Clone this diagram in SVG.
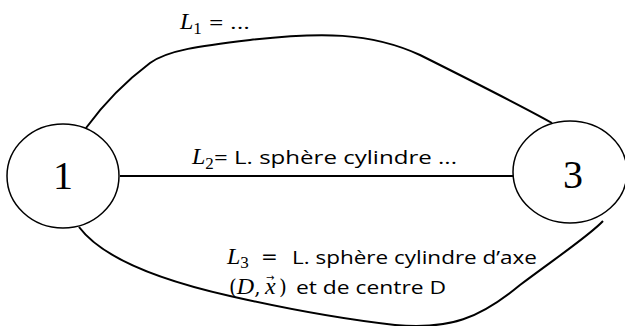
<svg xmlns="http://www.w3.org/2000/svg" width="625" height="326" viewBox="0 0 625 326">
<style>
.node{fill:#fff;stroke:#000;stroke-width:1.5}
.num{font-family:"Liberation Serif",serif;font-size:40px;fill:#000}
.edge{fill:none;stroke:#000;stroke-width:2}
.m{font-family:"Liberation Serif","DejaVu Serif",serif;font-style:italic;font-size:24px;fill:#000}
.sub{font-family:"Liberation Serif",serif;font-size:17px;fill:#000}
.op{font-family:"DejaVu Serif",serif;font-size:20px;fill:#000}
.t{font-family:"Open Sans","Liberation Sans",sans-serif;font-size:19px;fill:#000}
.arr{font-family:"DejaVu Sans",sans-serif;font-size:10px;fill:#000}
</style>
<rect width="625" height="326" fill="#fff"/>
<g id="connectors">
<path class="edge" d="M86,128 C105,102 130,78 150,63 C168,50 200,46 250,40 C320,32 370,32 420,55 C470,80 520,105 552,123"/>
<line class="edge" x1="120" y1="176" x2="513" y2="176"/>
<path class="edge" d="M79,227 C100,255 150,278 230,296 C300,312 350,320 395,325 C450,330 480,318 520,285 C560,255 590,235 603,221"/>
</g>
<g id="node1">
<ellipse class="node" cx="63" cy="176" rx="56" ry="52"/>
<text class="num" x="63" y="189" text-anchor="middle">1</text>
</g>
<g id="node3">
<ellipse class="node" cx="570" cy="172" rx="57" ry="51"/>
<text class="num" x="573" y="188" text-anchor="middle">3</text>
</g>
<g id="labels">
<text x="180" y="29"><tspan class="m">L</tspan><tspan class="sub" dy="5">1</tspan><tspan class="t" dy="-5" x="209" textLength="41" lengthAdjust="spacingAndGlyphs">= ...</tspan></text>
<text x="192" y="164"><tspan class="m">L</tspan><tspan class="sub" dy="5">2</tspan><tspan class="t" dy="-5" x="214" textLength="243" lengthAdjust="spacingAndGlyphs">= L. sphère cylindre ...</tspan></text>
<text x="227" y="264"><tspan class="m">L</tspan><tspan class="sub" dy="4">3</tspan><tspan class="op" dy="-4" x="261">=</tspan><tspan class="t" x="292" textLength="245" lengthAdjust="spacingAndGlyphs">L. sphère cylindre d’axe</tspan></text>
<text x="229" y="294"><tspan class="op">(</tspan><tspan class="m">D</tspan><tspan class="op">,</tspan><tspan class="m" x="265">x</tspan><tspan class="op" x="279">)</tspan><tspan class="t" x="296" textLength="150" lengthAdjust="spacingAndGlyphs">et de centre D</tspan><tspan class="arr" x="266" y="281">→</tspan></text>
</g>
</svg>
